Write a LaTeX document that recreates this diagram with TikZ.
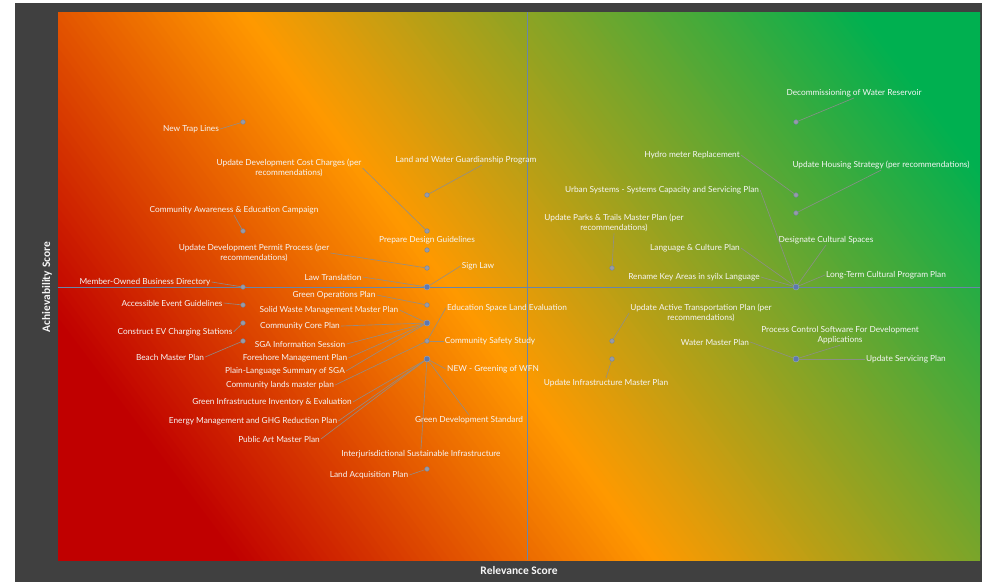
\documentclass[tikz,border=0pt]{standalone}
\usepackage{fontspec}
\setmainfont{Lato}
\newfontfamily\axisfont{Carlito}
\usepackage{tikz}
\usetikzlibrary{positioning}
\definecolor{frame}{HTML}{404040}
\definecolor{gred}{HTML}{C00000}
\definecolor{gorange}{HTML}{FF9900}
\definecolor{ggreen}{HTML}{00B050}
\definecolor{labeltext}{HTML}{F6F6F6}
\definecolor{axisblue}{HTML}{6886AA}
\definecolor{leadgray}{HTML}{8E8E8E}
\definecolor{dotgray}{HTML}{9A9AA6}
\definecolor{dotblue}{HTML}{5E78B0}

\begin{document}
\begin{tikzpicture}[x=1pt,y=-1pt,
  lbl/.style={text=labeltext,font=\fontsize{8.3}{10.5}\selectfont,align=center,inner sep=1pt},
  dot/.style={circle,fill=dotgray,draw=axisblue,line width=0.4pt,minimum size=4.6pt,inner sep=0pt},
  bigdot/.style={circle,fill=dotblue,draw=axisblue!70!white,line width=0.4pt,minimum size=6pt,inner sep=0pt},
  leader/.style={draw=leadgray,line width=0.65pt,opacity=0.9},
  midline/.style={draw=axisblue,line width=0.8pt},
  axtitle/.style={text=labeltext,font=\axisfont\bfseries\fontsize{11.5}{13}\selectfont,inner sep=0pt}
]
\useasboundingbox (0,0) rectangle (982,582);
\fill[frame] (15,3) rectangle (982,582);
% background gradient, red to orange to green
\begin{scope}
\clip (58,12) rectangle (980,560);
\foreach \s in {-300,-294,...,790}{
  \pgfmathsetmacro\pa{max(0,min(100,(\s+150)/3.35))}
  \pgfmathsetmacro\pb{max(0,min(100,(\s-185)/4.95))}
  \colorlet{tmpc}{gorange!\pa!gred}
  \colorlet{stripc}{ggreen!\pb!tmpc}
  \fill[stripc] ({0.8*\s+0.6*30},{-0.6*\s+0.8*30}) -- ({0.8*(\s+7)+0.6*30},{-0.6*(\s+7)+0.8*30})
    -- ({0.8*(\s+7)+0.6*1050},{-0.6*(\s+7)+0.8*1050}) -- ({0.8*\s+0.6*1050},{-0.6*\s+0.8*1050}) -- cycle;
}
\end{scope}
\draw[midline] (527,12) -- (527,560);
\draw[midline] (58,287) -- (980,287);
\node[axtitle,rotate=90] (yTitle) at (47,287) {Achievability Score};
\node[axtitle] (xTitle) at (519,570) {Relevance Score};

% data points
\node[dot] (pTrap) at (243,122) {};
\node[dot] (pAware) at (243,231) {};
\node[dot] (pMember) at (243,287) {};
\node[dot] (pAccess) at (243,305) {};
\node[dot] (pEV) at (243,323) {};
\node[dot] (pBeach) at (243,341) {};
\node[dot] (pLandWater) at (427,195) {};
\node[dot] (pCost) at (427,231) {};
\node[dot] (pDesign) at (427,250) {};
\node[dot] (pPermit) at (427,268) {};
\node[bigdot] (pLaw) at (427,287) {};
\node[dot] (pGreenOps) at (427,305) {};
\node[bigdot] (pCore) at (427,323) {};
\node[dot] (pSafety) at (427,341) {};
\node[bigdot] (pGreening) at (427,359) {};
\node[dot] (pAcq) at (427,469) {};
\node[dot] (pParks) at (612,268) {};
\node[dot] (pActive) at (612,341) {};
\node[dot] (pInfra) at (612,359) {};
\node[dot] (pReservoir) at (796,122) {};
\node[dot] (pHydro) at (796,195) {};
\node[dot] (pHousing) at (796,213) {};
\node[bigdot] (pCulture) at (796,287) {};
\node[bigdot] (pWater) at (796,359) {};

% labels
\node[lbl] (nTrap) at (191,129) {New Trap Lines};
\node[lbl] (nCost) at (289,168) {Update Development Cost Charges (per\\recommendations)};
\node[lbl] (nAware) at (234,210) {Community Awareness \& Education Campaign};
\node[lbl] (nPermit) at (254,253) {Update Development Permit Process (per\\recommendations)};
\node[lbl] (nLawTr) at (333,277) {Law Translation};
\node[lbl] (nLandWater) at (466,160) {Land and Water Guardianship Program};
\node[lbl] (nDesign) at (427,240) {Prepare Design Guidelines};
\node[lbl] (nSign) at (478,266) {Sign Law};
\node[lbl] (nGreenOps) at (334,295) {Green Operations Plan};
\node[lbl] (nWaste) at (329,310) {Solid Waste Management Master Plan};
\node[lbl] (nCore) at (300,326) {Community Core Plan};
\node[lbl] (nSGA) at (300,344) {SGA Information Session};
\node[lbl] (nShore) at (295,358) {Foreshore Management Plan};
\node[lbl] (nPlain) at (285,371) {Plain-Language Summary of SGA};
\node[lbl] (nLands) at (280,385) {Community lands master plan};
\node[lbl] (nGInfra) at (272,402) {Green Infrastructure Inventory \& Evaluation};
\node[lbl] (nEnergy) at (253,421) {Energy Management and GHG Reduction Plan};
\node[lbl] (nArt) at (279,439) {Public Art Master Plan};
\node[lbl] (nInterj) at (421,454) {Interjurisdictional Sustainable Infrastructure};
\node[lbl] (nAcq) at (369,475) {Land Acquisition Plan};
\node[lbl] (nEdu) at (507,308) {Education Space Land Evaluation};
\node[lbl] (nSafety) at (490,341) {Community Safety Study};
\node[lbl] (nGreening) at (493,369) {NEW - Greening of WFN};
\node[lbl] (nGDev) at (469,420) {Green Development Standard};
\node[lbl] (nMember) at (145,282) {Member-Owned Business Directory};
\node[lbl] (nAccess) at (172,303) {Accessible Event Guidelines};
\node[lbl] (nEV) at (175,332) {Construct EV Charging Stations};
\node[lbl] (nBeach) at (170,357) {Beach Master Plan};
\node[lbl] (nHydro) at (692,155) {Hydro meter Replacement};
\node[lbl] (nUrban) at (662,190) {Urban Systems - Systems Capacity and Servicing Plan};
\node[lbl] (nParks) at (614,223) {Update Parks \& Trails Master Plan (per\\recommendations)};
\node[lbl] (nLang) at (695,248) {Language \& Culture Plan};
\node[lbl] (nRename) at (694,277) {Rename Key Areas in syilx Language};
\node[lbl] (nReservoir) at (854,93) {Decommissioning of Water Reservoir};
\node[lbl] (nHousing) at (881,165) {Update Housing Strategy (per recommendations)};
\node[lbl] (nDesignate) at (826,240) {Designate Cultural Spaces};
\node[lbl] (nLongTerm) at (886,275) {Long-Term Cultural Program Plan};
\node[lbl] (nActive) at (701,313) {Update Active Transportation Plan (per\\recommendations)};
\node[lbl] (nInfra) at (606,383) {Update Infrastructure Master Plan};
\node[lbl] (nWater) at (715,342) {Water Master Plan};
\node[lbl] (nProcess) at (840,335) {Process Control Software For Development\\Applications};
\node[lbl] (nServ) at (906,359) {Update Servicing Plan};

% leader lines
\draw[leader] (nTrap.east) -- (pTrap);
\draw[leader] (nAware.south) -- (pAware);
\draw[leader] (nMember.east) -- (pMember);
\draw[leader] (nAccess.east) -- (pAccess);
\draw[leader] (nEV.east) -- (pEV);
\draw[leader] (nBeach.east) -- (pBeach);
\draw[leader] ([xshift=16pt]nLandWater.south) -- (pLandWater);
\draw[leader] (nCost.east) -- (pCost);
\draw[leader] (nPermit.east) -- (pPermit);
\draw[leader] (nLawTr.east) -- (pLaw);
\draw[leader] (nSign.west) -- (pLaw);
\draw[leader] (nGreenOps.east) -- (pGreenOps);
\draw[leader] (nWaste.east) -- (pCore);
\draw[leader] (nCore.east) -- (pCore);
\draw[leader] (nSGA.east) -- (pCore);
\draw[leader] (nShore.east) -- (pCore);
\draw[leader] (nPlain.east) -- (pCore);
\draw[leader] (nLands.east) -- (pSafety);
\draw[leader] (nEdu.west) -- (pSafety);
\draw[leader] (nSafety.west) -- (pSafety);
\draw[leader] (nGreening.west) -- (pGreening);
\draw[leader] (nGInfra.east) -- (pGreening);
\draw[leader] (nEnergy.east) -- (pGreening);
\draw[leader] (nArt.east) -- (pGreening);
\draw[leader] (nGDev.north) -- (pGreening);
\draw[leader] (nInterj.north) -- (pGreening);
\draw[leader] (nAcq.east) -- (pAcq);
\draw[leader] (nParks.south) -- (pParks);
\draw[leader] (nActive.west) -- (pActive);
\draw[leader] (nInfra.north) -- (pInfra);
\draw[leader] (nReservoir.south) -- (pReservoir);
\draw[leader] (nHydro.east) -- (pHydro);
\draw[leader] (nHousing.south) -- (pHousing);
\draw[leader] (nUrban.east) -- (pCulture);
\draw[leader] (nLang.east) -- (pCulture);
\draw[leader] (nRename.east) -- (pCulture);
\draw[leader] (nDesignate.south) -- (pCulture);
\draw[leader] (nLongTerm.west) -- (pCulture);
\draw[leader] (nProcess.south) -- (pWater);
\draw[leader] (nWater.east) -- (pWater);
\draw[leader] (nServ.west) -- (pWater);
\end{tikzpicture}
\end{document}
